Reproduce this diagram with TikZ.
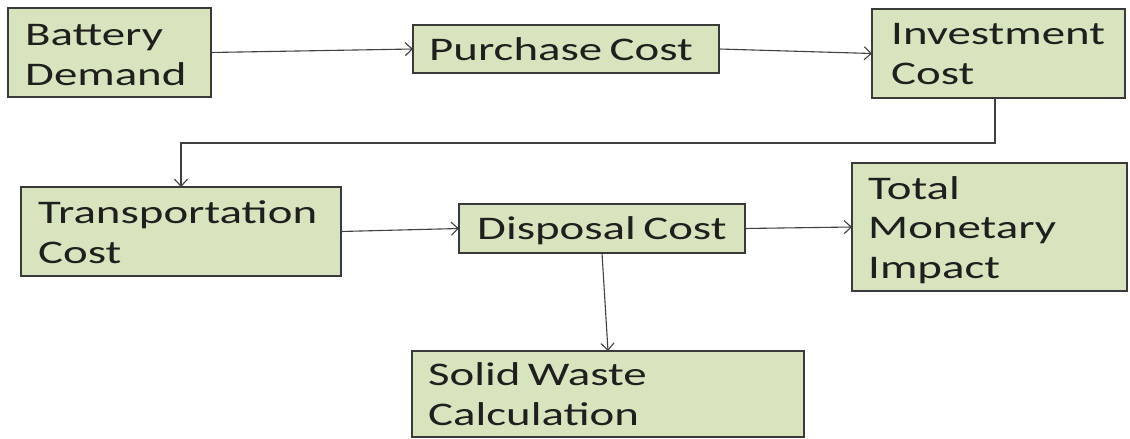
\documentclass[tikz,border=0pt]{standalone}
\usepackage{fontspec}
\setmainfont{Carlito}[FakeStretch=1.42, WordSpace=0.7]
\usetikzlibrary{arrows.meta}
\definecolor{boxfill}{HTML}{D7E4BD}
\definecolor{boxline}{HTML}{3A3A3A}
\definecolor{arrline}{HTML}{404040}
\tikzset{
  box/.style={draw=boxline, fill=boxfill, line width=1.2pt, inner sep=0pt, outer sep=0pt},
  txt/.style={anchor=base west, align=left, inner sep=0pt, font=\fontsize{33}{39.5}\selectfont, text=black!88},
  arr/.style={draw=arrline, line width=1.1pt, -{Straight Barb[length=7pt,width=13pt]}}
}
\begin{document}
\begin{tikzpicture}[x=1pt,y=-1pt]
\useasboundingbox[fill=white] (0,0) rectangle (1130,439);
% boxes
\node[box, minimum width=203pt, minimum height=89pt] (bat) at (109.5,52.5) {};
\node[box, minimum width=306pt, minimum height=48pt] (pur) at (566,49) {};
\node[box, minimum width=253pt, minimum height=89pt] (inv) at (998.5,53.5) {};
\node[box, minimum width=320pt, minimum height=89pt] (trans) at (181,231.5) {};
\node[box, minimum width=286pt, minimum height=49pt] (disp) at (602,228.5) {};
\node[box, minimum width=275pt, minimum height=128pt] (tot) at (989.5,227) {};
\node[box, minimum width=392pt, minimum height=86pt] (sol) at (608,394) {};
% texts (anchored at the baseline of their last line)
\node[txt] (bat-t) at (25,85) {Battery\\Demand};
\node[txt] (pur-t) at (429,60) {Purchase Cost};
\node[txt] (inv-t) at (891,84) {Investment\\Cost};
\node[txt] (trans-t) at (38,263) {Transportation\\Cost};
\node[txt] (disp-t) at (477,239) {Disposal Cost};
\node[txt] (tot-t) at (868,278) {Total\\Monetary\\Impact};
\node[txt] (sol-t) at (428,425) {Solid Waste\\Calculation};
% connectors
\draw[arr] (bat.east) -- (pur.west);
\draw[arr] (pur.east) -- (inv.west);
\coordinate (bend) at (995,143);
\draw[arr] (inv.south -| bend) -- (bend) -| (trans.north);
\draw[arr] (trans.east) -- (disp.west);
\draw[arr] (disp.east) -- (tot.west);
\draw[arr] (disp.south) -- (sol.north);
\end{tikzpicture}
\end{document}
